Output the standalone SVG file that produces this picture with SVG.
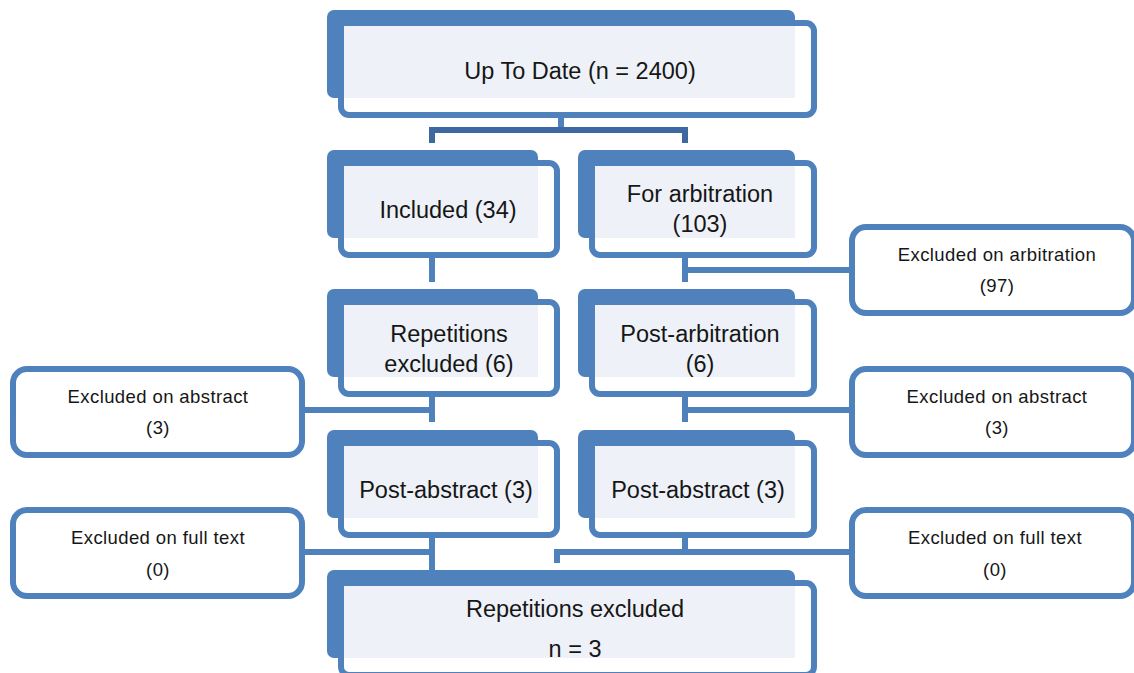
<svg xmlns="http://www.w3.org/2000/svg" width="1134" height="673" viewBox="0 0 1134 673">
<style>
.back{fill:#4f81bd}
.front{fill:#ffffff;stroke:#4f81bd;stroke-width:6}
.light{fill:#eef2f8}
.side{fill:#ffffff;stroke:#4f81bd;stroke-width:6}
.big{font-family:"Liberation Sans",Arial,sans-serif;font-size:23.5px;fill:#161616;text-anchor:middle}
.small{font-family:"Liberation Sans",Arial,sans-serif;font-size:18.5px;letter-spacing:0.4px;fill:#161616;text-anchor:middle}
.conn{fill:none;stroke:#4f81bd;stroke-width:6}
.bar{fill:none;stroke:#3d68a0;stroke-width:6}
</style>
<rect width="1134" height="673" fill="#ffffff"/>
<g id="connectors">
<path class="conn" d="M561,118 V130"/>
<path class="bar" d="M432,143 V130 H685 V143"/>
<path class="conn" d="M432,258 V282"/>
<path class="conn" d="M685,258 V282 M685,270 H850"/>
<path class="conn" d="M432,397 V422 M305,410 H432"/>
<path class="conn" d="M685,397 V422 M685,410 H850"/>
<path class="conn" d="M432,538 V570 M305,552 H432"/>
<path class="conn" d="M685,538 V552 M849,552 H557 V563"/>
</g>
<g id="n-uptodate">
<rect class="back" x="327" y="10" width="468" height="88" rx="7"/>
<rect class="front" x="341" y="23" width="473" height="92" rx="8"/>
<rect class="light" x="344" y="26" width="451" height="72"/>
<text class="big" x="580" y="79">Up To Date (n = 2400)</text>
</g>
<g id="n-included">
<rect class="back" x="327" y="150" width="211" height="88" rx="7"/>
<rect class="front" x="341" y="163" width="216" height="92" rx="8"/>
<rect class="light" x="344" y="166" width="194" height="72"/>
<text class="big" x="448" y="218">Included (34)</text>
</g>
<g id="n-arbitration">
<rect class="back" x="578" y="150" width="217" height="88" rx="7"/>
<rect class="front" x="592" y="163" width="222" height="92" rx="8"/>
<rect class="light" x="595" y="166" width="200" height="72"/>
<text class="big" x="700" y="202">For arbitration</text>
<text class="big" x="700" y="232">(103)</text>
</g>
<g id="n-repetitions6">
<rect class="back" x="327" y="289" width="211" height="88" rx="7"/>
<rect class="front" x="341" y="302" width="216" height="92" rx="8"/>
<rect class="light" x="344" y="305" width="194" height="72"/>
<text class="big" x="449" y="342">Repetitions</text>
<text class="big" x="449" y="372">excluded (6)</text>
</g>
<g id="n-postarbitration">
<rect class="back" x="578" y="289" width="217" height="88" rx="7"/>
<rect class="front" x="592" y="302" width="222" height="92" rx="8"/>
<rect class="light" x="595" y="305" width="200" height="72"/>
<text class="big" x="700" y="342">Post-arbitration</text>
<text class="big" x="700" y="372">(6)</text>
</g>
<g id="n-postabstract-left">
<rect class="back" x="327" y="430" width="211" height="88" rx="7"/>
<rect class="front" x="341" y="443" width="216" height="92" rx="8"/>
<rect class="light" x="344" y="446" width="194" height="72"/>
<text class="big" x="446" y="498">Post-abstract (3)</text>
</g>
<g id="n-postabstract-right">
<rect class="back" x="578" y="430" width="217" height="88" rx="7"/>
<rect class="front" x="592" y="443" width="222" height="92" rx="8"/>
<rect class="light" x="595" y="446" width="200" height="72"/>
<text class="big" x="698" y="498">Post-abstract (3)</text>
</g>
<g id="n-final">
<rect class="back" x="327" y="570" width="468" height="88" rx="7"/>
<rect class="front" x="341" y="583" width="473" height="92" rx="8"/>
<rect class="light" x="344" y="586" width="451" height="72"/>
<text class="big" x="575" y="617">Repetitions excluded</text>
<text class="big" x="575" y="657">n = 3</text>
</g>
<g id="x-abstract-left">
<rect class="side" x="13" y="369" width="289" height="86" rx="14"/>
<text class="small" x="158" y="403">Excluded on abstract</text>
<text class="small" x="158" y="434">(3)</text>
</g>
<g id="x-fulltext-left">
<rect class="side" x="13" y="510" width="289" height="86" rx="14"/>
<text class="small" x="158" y="544">Excluded on full text</text>
<text class="small" x="158" y="576">(0)</text>
</g>
<g id="x-arbitration-right">
<rect class="side" x="852" y="227" width="282" height="86" rx="14"/>
<text class="small" x="997" y="261">Excluded on arbitration</text>
<text class="small" x="997" y="292">(97)</text>
</g>
<g id="x-abstract-right">
<rect class="side" x="852" y="369" width="282" height="86" rx="14"/>
<text class="small" x="997" y="403">Excluded on abstract</text>
<text class="small" x="997" y="434">(3)</text>
</g>
<g id="x-fulltext-right">
<rect class="side" x="852" y="510" width="282" height="86" rx="14"/>
<text class="small" x="995" y="544">Excluded on full text</text>
<text class="small" x="995" y="576">(0)</text>
</g>
</svg>
